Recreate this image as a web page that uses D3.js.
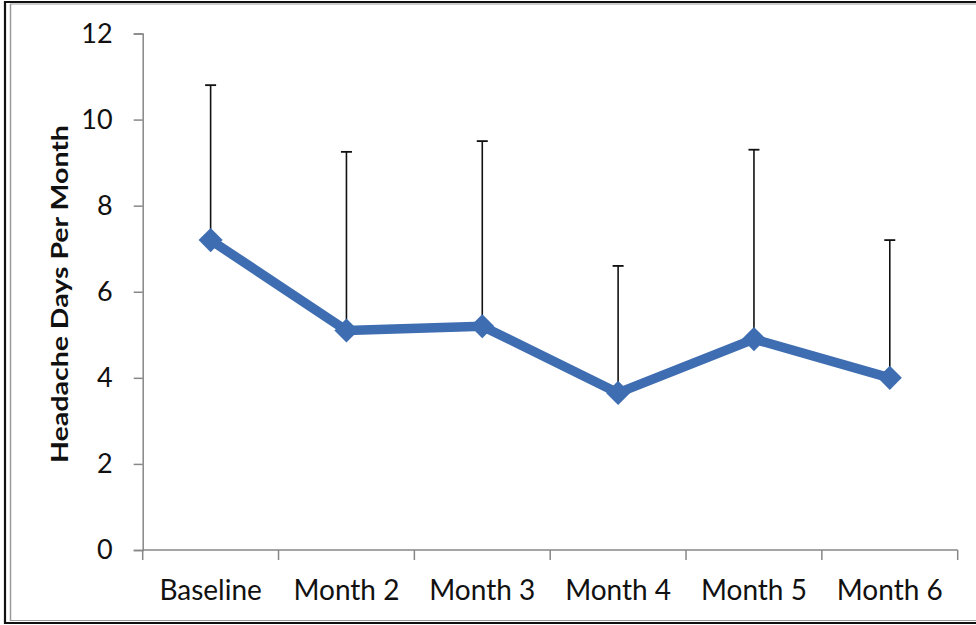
<!DOCTYPE html>
<html>
<head>
<meta charset="utf-8">
<script src="https://cdn.jsdelivr.net/npm/d3@7"></script>
<style>
  html, body { margin: 0; padding: 0; background: #fff; }
  svg { display: block; }
</style>
</head>
<body>
<svg id="chart" width="976" height="625"></svg>
<script>
// Monthly headache days: mean and upper error bar (mean + SD)
const categories = ["Baseline", "Month 2", "Month 3", "Month 4", "Month 5", "Month 6"];
const meanDays = [7.2, 5.1, 5.2, 3.65, 4.9, 4.0];
const sdDays = [3.6, 4.15, 4.3, 2.95, 4.4, 3.2];
const yTicks = [0, 2, 4, 6, 8, 10, 12];

const svg = d3.select("#chart");
const W = 976, H = 625;
const font = "Lato, 'Open Sans', sans-serif";

// frame: dark outer rule with a thin grey inner rule
const frame = svg.append("g");
frame.append("line").attr("x1", 5).attr("x2", 5).attr("y1", 1).attr("y2", 624)
  .attr("stroke", "#111").attr("stroke-width", 2.2);
frame.append("line").attr("x1", 4).attr("x2", W).attr("y1", 2).attr("y2", 2)
  .attr("stroke", "#111").attr("stroke-width", 2.2);
frame.append("line").attr("x1", 4).attr("x2", W).attr("y1", 623).attr("y2", 623)
  .attr("stroke", "#111").attr("stroke-width", 2.2);
frame.append("line").attr("x1", 10.5).attr("x2", 10.5).attr("y1", 4).attr("y2", 621)
  .attr("stroke", "#9a9a9a").attr("stroke-width", 1.5);
frame.append("line").attr("x1", 10).attr("x2", W).attr("y1", 4).attr("y2", 4)
  .attr("stroke", "#9a9a9a").attr("stroke-width", 1);
frame.append("line").attr("x1", 10).attr("x2", W).attr("y1", 620.5).attr("y2", 620.5)
  .attr("stroke", "#9a9a9a").attr("stroke-width", 1);

const x = d3.scaleBand().domain(categories).range([142.7, 957.7]).padding(0);
const y = d3.scaleLinear().domain([0, 12]).range([550, 33.5]);

const axisColor = "#878787";

// y axis
const yAxis = svg.append("g").attr("transform", "translate(142.7,0)")
  .call(d3.axisLeft(y).tickValues(yTicks).tickSize(9).tickPadding(21).tickFormat(d3.format("d")));
yAxis.select(".domain").attr("stroke", axisColor).attr("stroke-width", 1.5);
yAxis.selectAll(".tick line").attr("stroke", axisColor).attr("stroke-width", 1.5);
yAxis.selectAll(".tick text").attr("font-family", font).attr("font-size", 27)
  .attr("fill", "#111");

// x axis with ticks at category boundaries
const xAxis = svg.append("g").attr("transform", "translate(0,550)");
xAxis.append("line").attr("x1", 142.7).attr("x2", 957.7).attr("y1", 0).attr("y2", 0)
  .attr("stroke", axisColor).attr("stroke-width", 1.5);
const bounds = categories.map(c => x(c)).concat([x.range()[1]]);
xAxis.selectAll("line.tk").data(bounds).join("line").attr("class", "tk")
  .attr("x1", d => d).attr("x2", d => d).attr("y1", 0).attr("y2", 10)
  .attr("stroke", axisColor).attr("stroke-width", 1.5);
xAxis.selectAll("text").data(categories).join("text")
  .attr("x", d => x(d) + x.bandwidth() / 2).attr("y", 50)
  .attr("text-anchor", "middle").attr("font-family", font).attr("font-size", 28)
  .attr("fill", "#111").text(d => d);

// y axis title, stretched along its length to span the plot height
const title = svg.append("text")
  .attr("text-anchor", "middle").attr("font-family", font).attr("font-weight", "bold")
  .attr("font-size", 22).attr("fill", "#111")
  .text("Headache Days Per Month");
const titleLen = title.node().getComputedTextLength();
const stretch = 338 / titleLen;
title.attr("transform", `translate(67.5,294) rotate(-90) scale(${stretch},1)`);

const cx = d => x(d) + x.bandwidth() / 2;

// upper error bars
const eb = svg.append("g");
categories.forEach((c, i) => {
  const top = y(meanDays[i] + sdDays[i]);
  eb.append("line").attr("x1", cx(c)).attr("x2", cx(c))
    .attr("y1", y(meanDays[i])).attr("y2", top)
    .attr("stroke", "#111").attr("stroke-width", 1.6);
  eb.append("line").attr("x1", cx(c) - 5.5).attr("x2", cx(c) + 5.5)
    .attr("y1", top).attr("y2", top)
    .attr("stroke", "#111").attr("stroke-width", 1.8);
});

const blue = "#3F6DB1";

// mean line
const line = d3.line().x((d, i) => cx(categories[i])).y(d => y(d));
svg.append("path").datum(meanDays).attr("d", line)
  .attr("fill", "none").attr("stroke", blue).attr("stroke-width", 9.5)
  .attr("stroke-linejoin", "round");

// diamond markers
const diamond = d3.symbol().type(d3.symbolDiamond2).size(370);
svg.append("g").selectAll("path").data(meanDays).join("path")
  .attr("transform", (d, i) => `translate(${cx(categories[i])},${y(d)})`)
  .attr("d", diamond).attr("fill", blue);
</script>
</body>
</html>
